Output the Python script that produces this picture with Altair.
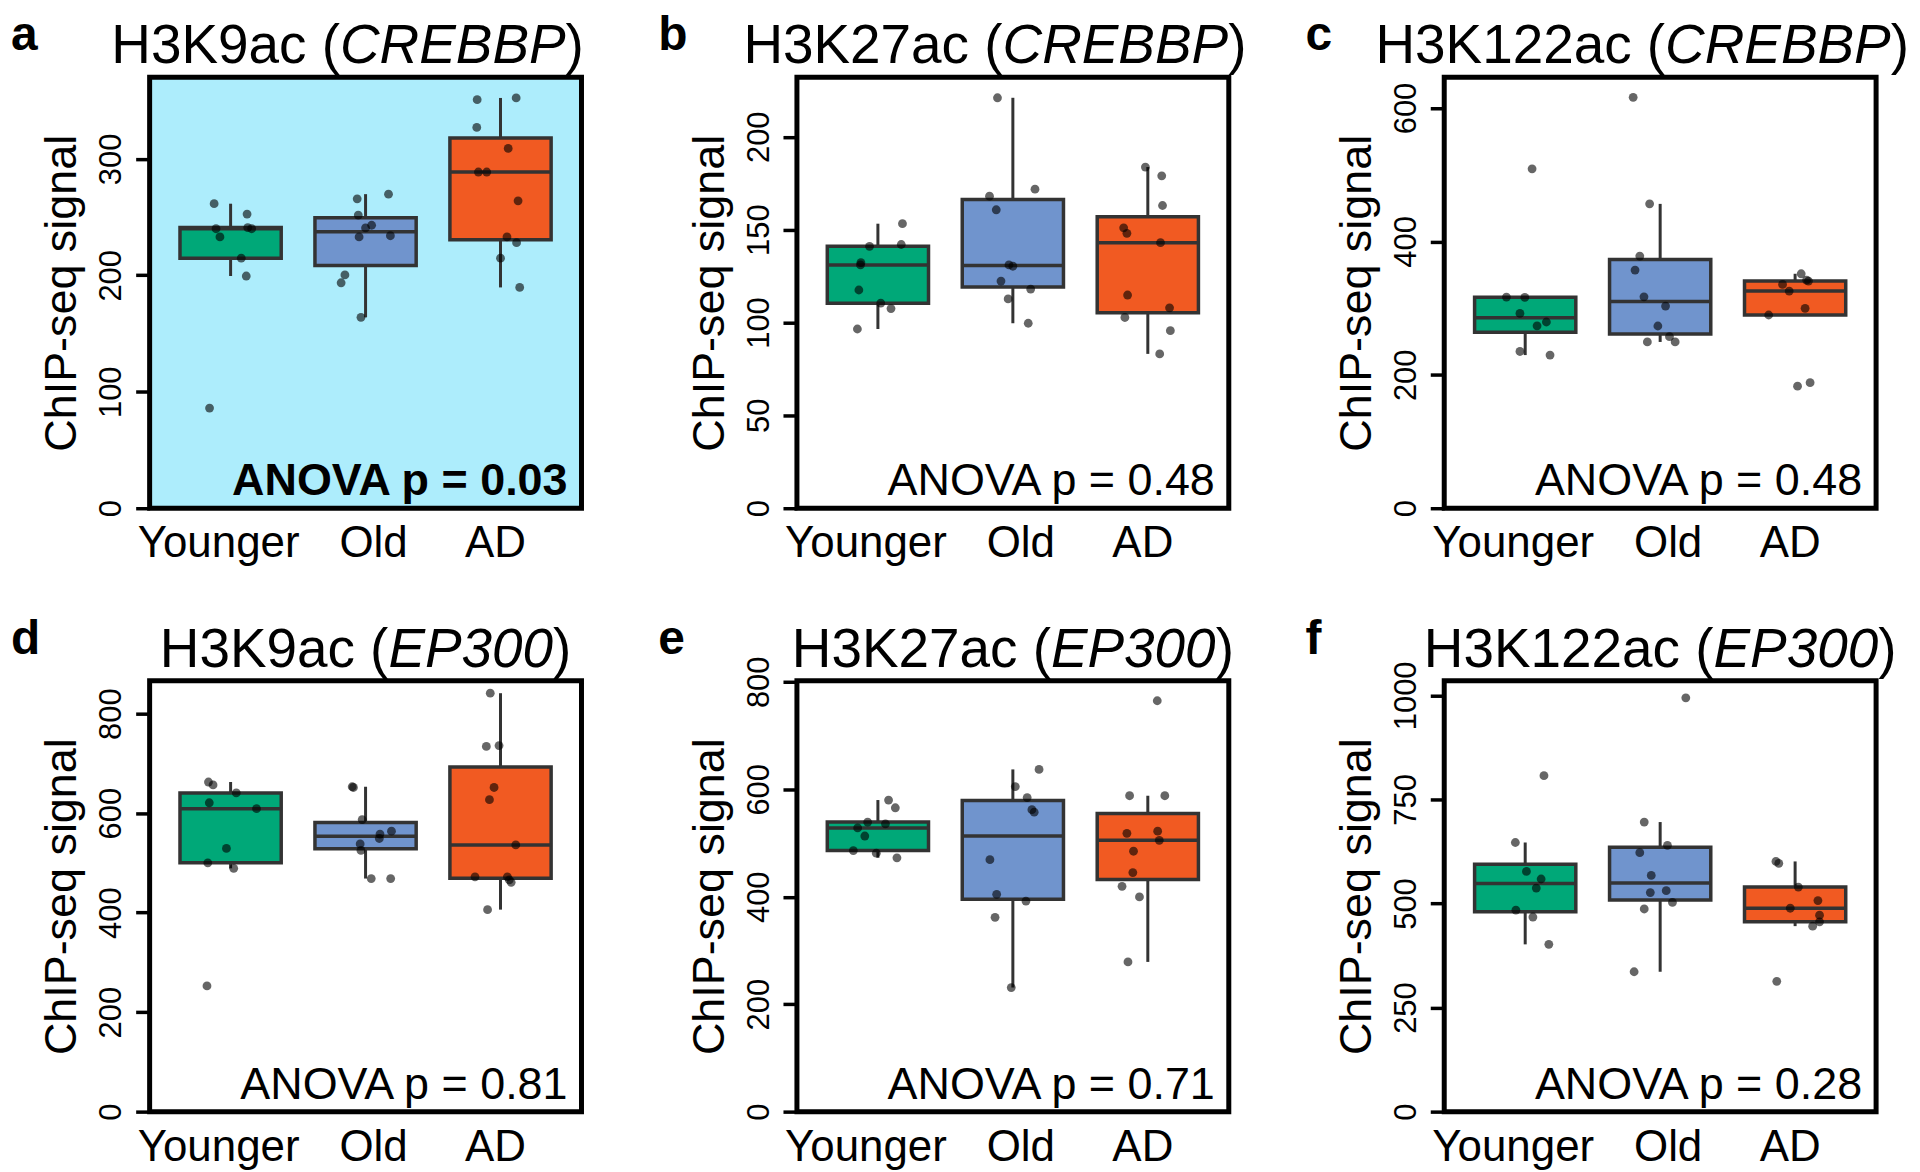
import altair as alt
import numpy as np
import pandas as pd

GROUPS = ["Younger", "Old", "AD"]
COLORS = ["#00A878", "#7094CD", "#F15A22"]

# ---- panel a : H3K9ac (CREBBP) ----
A_YOUNGER = [86, 261.5, 252.6, 240, 233, 241, 240, 214.7, 199.4]
A_YOUNGER_DX = [-0.156, -0.122, 0.122, -0.108, -0.079, 0.127, 0.156, 0.079, 0.116]
A_OLD = [265.7, 269.7, 251.7, 240.7, 243, 233, 234, 200.3, 193.6, 163.9]
A_OLD_DX = [-0.062, 0.17, -0.054, 0, 0.045, -0.048, 0.184, -0.153, -0.181, -0.034]
A_AD = [350.8, 352.3, 327, 309, 288.7, 288.7, 264, 233, 228, 214.7, 189.6]
A_AD_DX = [-0.173, 0.116, -0.176, 0.057, -0.164, -0.102, 0.13, 0.048, 0.119, 0, 0.142]

# ---- panel b : H3K27ac (CREBBP) ----
B_YOUNGER = [141, 153.2, 142, 132.2, 131, 117.5, 110.4, 107.5, 96.5]
B_YOUNGER_DX = [-0.062, 0.182, 0.173, -0.126, -0.129, -0.141, 0.021, 0.097, -0.152]
B_OLD = [221, 168, 171.8, 160.7, 131, 130.3, 122.3, 118, 112.7, 99.6]
B_OLD_DX = [-0.114, -0.173, 0.164, -0.123, -0.029, 0, -0.088, 0.132, -0.035, 0.114]
B_AD = [183.7, 179, 163, 151, 148, 143, 114.8, 107.9, 102.7, 95.6, 83.1]
B_AD_DX = [-0.018, 0.103, 0.109, -0.179, -0.155, 0.094, -0.15, 0.161, -0.17, 0.167, 0.088]

# ---- panel c : H3K122ac (CREBBP) ----
C_YOUNGER = [508.8, 316.6, 316, 292, 273.4, 279.2, 235, 229.6]
C_YOUNGER_DX = [0.051, -0.139, -0.003, -0.039, 0.088, 0.157, -0.039, 0.184]
C_OLD = [616, 456.3, 378, 357, 317, 303, 273.2, 257.2, 249.3, 249.3]
C_OLD_DX = [-0.2, -0.078, -0.151, -0.186, -0.12, 0.04, -0.017, 0.069, -0.095, 0.111]
C_AD = [351.5, 335.6, 340.6, 342, 325.6, 299.7, 289.7, 183, 188.3]
C_AD_DX = [0.045, -0.093, 0.099, 0.085, -0.044, 0.074, -0.196, 0.018, 0.111]

# ---- panel d : H3K9ac (EP300) ----
D_YOUNGER = [662.5, 656.7, 640.6, 620.8, 609, 529, 500, 489, 252.6]
D_YOUNGER_DX = [-0.164, -0.13, 0.042, -0.158, 0.192, -0.031, -0.169, 0.023, -0.175]
D_OLD = [653, 651.5, 587, 557.8, 549, 563.7, 538, 525, 468.5, 468.5]
D_OLD_DX = [-0.099, -0.09, -0.025, 0.107, 0.102, 0.192, -0.04, -0.034, 0.042, 0.186]
D_AD = [841, 734, 735.7, 651.5, 627, 536, 472, 472, 466, 461, 406]
D_AD_DX = [-0.076, -0.105, -0.011, -0.048, -0.082, 0.113, -0.189, 0.051, 0.065, 0.079, -0.096]

# ---- panel e : H3K27ac (EP300) ----
E_YOUNGER = [580, 565.6, 539, 535.7, 528, 513, 486, 481, 472.5]
E_YOUNGER_DX = [0.079, 0.129, -0.076, 0.056, -0.15, -0.097, -0.182, -0.012, 0.141]
E_OLD = [637, 605, 584.6, 562, 557.4, 469, 404.5, 392, 361.7, 231]
E_OLD_DX = [0.194, 0.018, 0.106, 0.141, 0.158, -0.17, -0.12, 0.097, -0.132, -0.012]
E_AD = [764.8, 588, 588, 518, 522, 505, 484.7, 445, 419.4, 399.7, 278.7]
E_AD_DX = [0.07, -0.135, 0.126, -0.155, 0.073, 0.085, -0.106, -0.111, -0.191, -0.062, -0.147]

# ---- panel f : H3K122ac (EP300) ----
F_YOUNGER = [807, 646.5, 577, 558.8, 537, 484, 467.5, 401.8]
F_YOUNGER_DX = [0.139, -0.073, 0.009, 0.118, 0.082, -0.069, 0.057, 0.175]
F_OLD = [993.9, 695.6, 639.5, 622, 567.5, 526.3, 530.7, 502.6, 486.8, 336]
F_OLD_DX = [0.19, -0.118, 0.054, -0.151, -0.066, -0.073, 0.045, 0.091, -0.118, -0.193]
F_AD = [601, 596.5, 539.5, 507, 488.6, 472, 456, 445.6, 313]
F_AD_DX = [-0.142, -0.121, 0.024, 0.169, -0.036, 0.181, 0.181, 0.13, -0.136]

LETTERS = ["a", "b", "c", "d", "e", "f"]
MARKS = ["H3K9ac", "H3K27ac", "H3K122ac", "H3K9ac", "H3K27ac", "H3K122ac"]
GENES = ["CREBBP", "CREBBP", "CREBBP", "EP300", "EP300", "EP300"]
Y_MAX = [370, 232, 646, 866, 802, 1035]
Y_TICKS = [[0, 100, 200, 300], [0, 50, 100, 150, 200], [0, 200, 400, 600],
           [0, 200, 400, 600, 800], [0, 200, 400, 600, 800], [0, 250, 500, 750, 1000]]
ANOVA = ["ANOVA p = 0.03", "ANOVA p = 0.48", "ANOVA p = 0.48",
         "ANOVA p = 0.81", "ANOVA p = 0.71", "ANOVA p = 0.28"]
SIGNIFICANT = [True, False, False, False, False, False]
BACKGROUND = ["#ADEDFC", "white", "white", "white", "white", "white"]
TITLE_DX = [-18, -18, -18, 0, 0, 0]
LABEL_DX = [-12, 8, -5]

SERIES = [
    [(A_YOUNGER, A_YOUNGER_DX), (A_OLD, A_OLD_DX), (A_AD, A_AD_DX)],
    [(B_YOUNGER, B_YOUNGER_DX), (B_OLD, B_OLD_DX), (B_AD, B_AD_DX)],
    [(C_YOUNGER, C_YOUNGER_DX), (C_OLD, C_OLD_DX), (C_AD, C_AD_DX)],
    [(D_YOUNGER, D_YOUNGER_DX), (D_OLD, D_OLD_DX), (D_AD, D_AD_DX)],
    [(E_YOUNGER, E_YOUNGER_DX), (E_OLD, E_OLD_DX), (E_AD, E_AD_DX)],
    [(F_YOUNGER, F_YOUNGER_DX), (F_OLD, F_OLD_DX), (F_AD, F_AD_DX)],
]

W, H = 433, 432
FONT = "Liberation Sans"
TITLE_SIZE = 55
TICK_LABEL_SIZE = 31
EDGE = "#333333"

# Arial / Liberation Sans advance widths (em)
EM = {"H": .722, "3": .556, "K": .667, "9": .556, "a": .556, "c": .5, " ": .278,
      "(": .333, ")": .333, "2": .556, "7": .556, "1": .556, "C": .722, "R": .722,
      "E": .667, "B": .667, "P": .667, "0": .556}


def text_width(s, size):
    return sum(EM.get(ch, 0.556) for ch in s) * size


def box_stats(vals):
    v = np.asarray(vals, dtype=float)
    q1, med, q3 = np.percentile(v, [25, 50, 75])
    iqr = q3 - q1
    lo = v[v >= q1 - 1.5 * iqr].min()
    hi = v[v <= q3 + 1.5 * iqr].max()
    return q1, med, q3, lo, hi


def text_layer(s, x, y, size, align="left", weight="normal", style="normal"):
    return alt.Chart(pd.DataFrame({"t": [s]})).mark_text(
        align=align, baseline="alphabetic", fontSize=size, fontWeight=weight,
        fontStyle=style, font=FONT, color="black"
    ).encode(text="t:N", x=alt.value(x), y=alt.value(y))


def make_panel(i):
    pts_rows, box_rows = [], []
    for g, (grp, (vals, dxs)) in enumerate(zip(GROUPS, SERIES[i])):
        pos = g + 1
        for v, d in zip(vals, dxs):
            pts_rows.append({"grp": grp, "x": pos + d, "val": v})
        q1, med, q3, lo, hi = box_stats(vals)
        box_rows.append({"grp": grp, "pos": pos, "xl": pos - 0.375, "xr": pos + 0.375,
                         "q1": q1, "med": med, "q3": q3, "lo": lo, "hi": hi})
    pts = pd.DataFrame(pts_rows)
    box = pd.DataFrame(box_rows)

    xscale = alt.Scale(domain=[0.4, 3.6], nice=False, zero=False)
    yscale = alt.Scale(domain=[0, Y_MAX[i]], nice=False, zero=False)
    x_axis = alt.Axis(values=[1, 2, 3], labels=False, title=None, domain=False,
                      ticks=False, grid=False)
    y_axis = alt.Axis(values=Y_TICKS[i], format="d", title="ChIP-seq signal",
                      domain=False, grid=False,
                      ticks=True, tickSize=14, tickWidth=3.5, tickColor="black",
                      labelAngle=270, labelAlign="center", labelBaseline="alphabetic",
                      labelPadding=15, labelFontSize=TICK_LABEL_SIZE, labelFont=FONT,
                      labelColor="black", labelFlush=False, labelOverlap=False,
                      titleFont=FONT, titleFontSize=45, titleFontWeight="normal",
                      titleColor="black", titleAngle=270, titleAlign="center",
                      titleBaseline="alphabetic", titleX=-74, titleY=H / 2)

    whisk = alt.Chart(box).mark_rule(color=EDGE, strokeWidth=3).encode(
        x=alt.X("pos:Q", scale=xscale, axis=x_axis),
        y=alt.Y("lo:Q", scale=yscale, axis=y_axis), y2="hi:Q")
    boxes = alt.Chart(box).mark_bar(stroke=EDGE, strokeWidth=3.5, opacity=1).encode(
        x=alt.X("xl:Q", scale=xscale, axis=x_axis), x2="xr:Q",
        y=alt.Y("q1:Q", scale=yscale, axis=y_axis), y2="q3:Q",
        fill=alt.Fill("grp:N", scale=alt.Scale(domain=GROUPS, range=COLORS), legend=None))
    median = alt.Chart(box).mark_rule(color=EDGE, strokeWidth=3.5).encode(
        x=alt.X("xl:Q", scale=xscale, axis=x_axis), x2="xr:Q",
        y=alt.Y("med:Q", scale=yscale, axis=y_axis))
    points = alt.Chart(pts).mark_circle(color="black", opacity=0.6, size=78).encode(
        x=alt.X("x:Q", scale=xscale, axis=x_axis),
        y=alt.Y("val:Q", scale=yscale, axis=y_axis))

    # category labels below the panel, through the x scale
    labels = []
    for g, grp in enumerate(GROUPS):
        lab_df = pd.DataFrame({"pos": [g + 1], "lab": [grp]})
        labels.append(alt.Chart(lab_df).mark_text(
            align="center", baseline="alphabetic", fontSize=44, font=FONT,
            color="black", dx=LABEL_DX[g]
        ).encode(x=alt.X("pos:Q", scale=xscale, axis=x_axis),
                 y=alt.value(H + 49), text="lab:N"))

    anova = text_layer(ANOVA[i], W - 14, H - 13, 45, align="right",
                       weight="bold" if SIGNIFICANT[i] else "normal")
    letter = text_layer(LETTERS[i], -139, -27, 48, weight="bold")

    p1, p2, p3 = MARKS[i] + " (", GENES[i], ")"
    w1, w2, w3 = (text_width(s, TITLE_SIZE) for s in (p1, p2, p3))
    x0 = W / 2 + TITLE_DX[i] - (w1 + w2 + w3) / 2
    t1 = text_layer(p1, x0, -14, TITLE_SIZE)
    t2 = text_layer(p2, x0 + w1, -14, TITLE_SIZE, style="italic")
    t3 = text_layer(p3, x0 + w1 + w2, -14, TITLE_SIZE)

    return alt.layer(whisk, boxes, median, points, *labels, anova, letter, t1, t2, t3
                     ).properties(
        width=W, height=H,
        view=alt.ViewBackground(fill=BACKGROUND[i], stroke="black", strokeWidth=5))


chart = alt.concat(*[make_panel(i) for i in range(6)], columns=3,
                   spacing={"row": 173, "column": 216}, bounds="flush").properties(
    padding=0
).configure(font=FONT).configure_axisY(labelFontSize=TICK_LABEL_SIZE, labelFont=FONT)

chart.save("out.html", embed_options={"renderer": "svg", "actions": False})
